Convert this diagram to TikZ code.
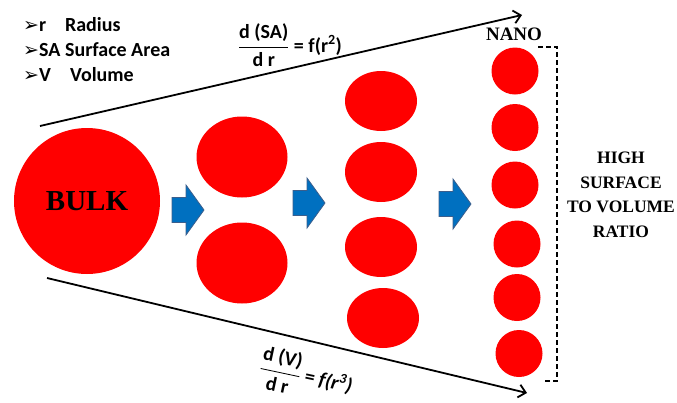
\documentclass[tikz,border=0pt]{standalone}
\usepackage{amsmath}
\usepackage{fontspec}
\setmainfont{Carlito}
\newfontfamily\titlefont{Liberation Serif}
\newfontfamily\symfont{DejaVu Sans}
\usetikzlibrary{arrows.meta,positioning,shapes.geometric}
\definecolor{ballred}{HTML}{FF0000}
\definecolor{stepblue}{HTML}{0070C0}
\definecolor{stepedge}{HTML}{3B5E8C}
% block arrow with its tip at (#1,#2)
\newcommand{\blockarrow}[2]{%
  \filldraw[fill=stepblue, draw=stepedge, line width=0.8pt, line join=miter]
    (#1,#2) -- ++(-18,-25) -- ++(0,12.5) -- ++(-14,0) -- ++(0,25) -- ++(14,0) -- ++(0,12.5) -- cycle;}
\newcommand{\bul}{{\symfont\fontsize{19}{19}\selectfont ➢}}

\begin{document}
\begin{tikzpicture}[
    x=1pt, y=-1pt,
    ball/.style={circle, fill=ballred, inner sep=0pt, minimum size=#1},
    ball/.default=47pt,
    blob/.style 2 args={ellipse, fill=ballred, inner sep=0pt, minimum width=#1, minimum height=#2},
    trend/.style={-{Straight Barb[length=7pt, width=13pt]}, line width=1.8pt},
    legend/.style={font=\bfseries\fontsize{20}{22}\selectfont, inner sep=0pt, anchor=west},
    eqn/.style={font=\bfseries\fontsize{20}{22}\selectfont, inner sep=0pt},
    bigtag/.style={font=\titlefont\bfseries\fontsize{29}{29}\selectfont},
    tag/.style={font=\titlefont\bfseries\fontsize{17.5}{24.5}\selectfont, inner sep=0pt, align=center}
]
\useasboundingbox (0,0) rectangle (677,402);

% legend
\node[legend] (leg-r) at (23,25) {\bul\makebox[26pt][l]{r}Radius};
\node[legend, below=25pt of leg-r.west, anchor=west] (leg-sa) {\bul\makebox[26pt][l]{SA}Surface Area};
\node[legend, below=25pt of leg-sa.west, anchor=west] (leg-v) {\bul\makebox[31pt][l]{V}Volume};

% particles
\node[ball=146pt, bigtag] (bulk) at (87,201) {BULK};
\node[blob={91pt}{81pt}] (half-a) at (242,157) {};
\node[blob={91pt}{81pt}] (half-b) at (242,263) {};
\foreach \x/\y [count=\i] in {381/101, 381/172, 381/247, 383/318}
  \node[blob={72pt}{60pt}] (quarter-\i) at (\x,\y) {};
\foreach \x/\y [count=\i] in {515/71, 515/127.5, 515/185, 517/244, 517/297.5, 519/353.5}
  \node[ball] (nano-\i) at (\x,\y) {};

\blockarrow{204}{210}
\blockarrow{325}{203}
\blockarrow{471}{204}

% trend lines
\coordinate (sa-start) at (40,126);
\coordinate (sa-end) at (522,15);
\coordinate (v-start) at (47,278);
\coordinate (v-end) at (527,393);
\draw[trend] (sa-start) -- (sa-end);
\draw[trend] (v-start) -- (v-end);
\node[eqn] (rate-sa) at (290,45) {$\dfrac{\text{d (SA)}}{\text{d r}}$ = f(r\textsuperscript{2})};
\node[eqn, rotate=-12] (rate-v) at (306,376) {$\dfrac{\text{d (V)}}{\text{d r}}$ = \textit{f(r\textsuperscript{3})}};

% bracket and labels
\node[tag, font=\titlefont\bfseries\fontsize{19}{19}\selectfont] (nano) at (514,34) {NANO};
\coordinate (br-a) at (538,47);
\coordinate (br-b) at (557,47);
\coordinate (br-c) at (557,381);
\coordinate (br-d) at (543,381);
\draw[dashed, line width=1.8pt, dash pattern=on 5pt off 3pt] (br-a) -- (br-b) -- (br-c) -- (br-d);
\node[tag] (ratio) at (621,195) {HIGH\\SURFACE\\TO VOLUME\\RATIO};
\end{tikzpicture}
\end{document}
